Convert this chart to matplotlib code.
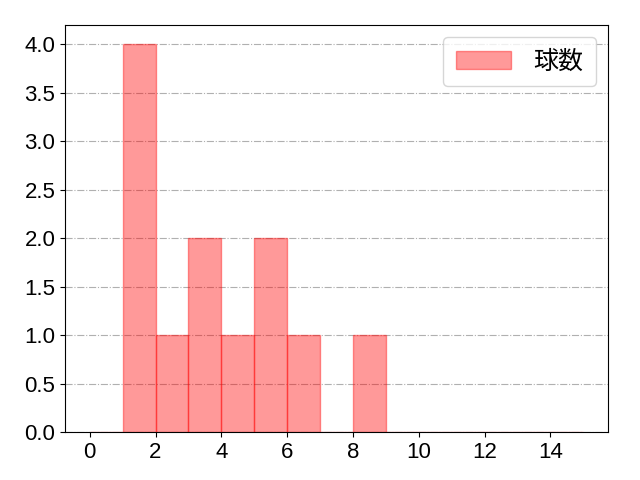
import matplotlib
matplotlib.use("Agg")
import matplotlib.pyplot as plt

plt.rcParams['font.family'] = ['Liberation Sans', 'Noto Sans CJK JP', 'DejaVu Sans']

bin_edges = list(range(16))
counts = [0, 4, 1, 2, 1, 2, 1, 0, 1, 0, 0, 0, 0, 0, 0]
label = "球数"

fig, ax = plt.subplots(figsize=(6.4, 4.8), dpi=100)
fig.subplots_adjust(left=0.1016, right=0.95, top=0.948, bottom=0.1)
ax.hist(bin_edges[:-1], bins=bin_edges, weights=counts, color='red', alpha=0.4,
        edgecolor='red', linewidth=1, label=label)
ax.grid(axis='y', linestyle='-.', color='#b0b0b0', linewidth=0.8)
ax.set_axisbelow(True)
ax.set_xticks(range(0, 15, 2))
ax.tick_params(labelsize=16)
ax.legend(fontsize=18, handlelength=2.2, handletextpad=0.9, borderaxespad=0.5,
          borderpad=0.5)
fig.savefig("out.png")
